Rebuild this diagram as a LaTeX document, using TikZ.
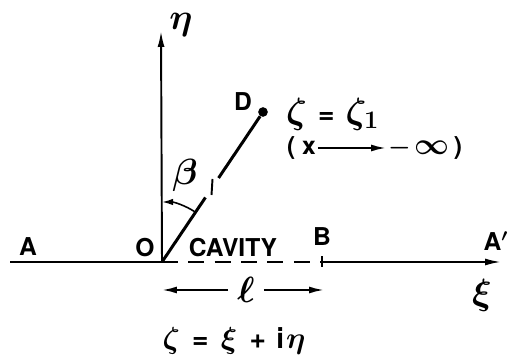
\documentclass[tikz,border=0pt]{standalone}
\usepackage{fontspec}
\setsansfont{TeX Gyre Heros}
\usetikzlibrary{arrows.meta, calc, positioning}

\begin{document}
\begin{tikzpicture}[
    x=0.02cm, y=0.02cm,
    lbl/.style={font=\sffamily\bfseries\boldmath\fontsize{14}{16}\selectfont, inner sep=1pt},
    greek/.style={font=\boldmath\fontsize{21}{23}\selectfont, inner sep=1pt},
    axis/.style={line width=1.1pt},
    plate/.style={line width=1.7pt},
    arr/.style={-{Latex[length=3mm,width=1.4mm]}, line width=1.1pt},
    dot/.style={circle, fill, inner sep=0pt, minimum size=5.5pt}
]
\useasboundingbox (0,0) rectangle (511,361);

\coordinate (O) at (162,99);
\coordinate (Aend) at (10,99);
\coordinate (B) at (322,99);
\coordinate (Aprime) at (501,99);
\coordinate (etatop) at (161,330);
\node[dot] (D) at (263,249) {};

\draw[axis] (Aend) -- (O);
\draw[axis, dash pattern=on 9pt off 6pt] (O) -- (B);
\draw[axis, -{Latex[length=3.2mm,width=1.4mm]}] (B) -- (Aprime);
\draw[axis] ($(B)+(0,-5)$) -- ($(B)+(0,6)$);
\draw[axis, -{Latex[length=3.2mm,width=1.4mm]}] (O) -- (etatop);

\draw[plate] (O) -- ($(O)!0.43!(D)$);
\draw[plate] ($(O)!0.56!(D)$) -- (D);
\draw[axis] ($(O)!0.5!(D)+(0,8)$) -- ($(O)!0.5!(D)+(-1,-8)$);
\draw[line width=0.9pt, -{Latex[length=2.2mm,width=1.3mm]}] ($(O)+(56:60)$) arc[start angle=56, end angle=90, radius=1.2cm];

\node[greek] (eta) at (181,336) {$\eta$};
\node[greek] (beta) at (185,186) {$\beta$};
\node[lbl] (A) at (28,114) {A};
\node[lbl] (Olbl) at (145,113) {O};
\node[lbl] (cavity) at (233,113) {CAVITY};
\node[lbl] (Blbl) at (322,124) {B};
\node[lbl] (Alblp) at (496,120) {A$'$};
\node[greek] (xi) at (482,66) {$\xi$};
\node[lbl] (Dlbl) at (243,259) {D};
\node[greek, anchor=west] (zeta1) at (284,247) {$\zeta$ \textsf{\bfseries\fontsize{16}{18}\selectfont =} $\zeta_{1}$};

\node[lbl, anchor=west] (xl) at (285,213) {( x};
\node[lbl, anchor=west] (inf) at (386,213) {$-$\,{\fontsize{18}{20}\selectfont$\infty$}\,)};
\draw[arr] (xl) -- (inf);

\node[greek, inner sep=5pt] (ell) at (246,71) {$\ell$};
\coordinate (ellL) at (162,71);
\coordinate (ellR) at (324,71);
\draw[arr] (ell) -- (ellL);
\draw[arr] (ell) -- (ellR);

\node[greek, font=\boldmath\fontsize{19}{21}\selectfont] (formula) at (234,20) {$\zeta$\hspace{7pt}\textsf{\bfseries\fontsize{16}{18}\selectfont =}\hspace{7pt}$\xi$\hspace{7pt}\textsf{\bfseries\fontsize{16}{18}\selectfont +}\hspace{6pt}\textsf{\bfseries\fontsize{16}{18}\selectfont i}\hspace{1pt}$\eta$};
\end{tikzpicture}
\end{document}
